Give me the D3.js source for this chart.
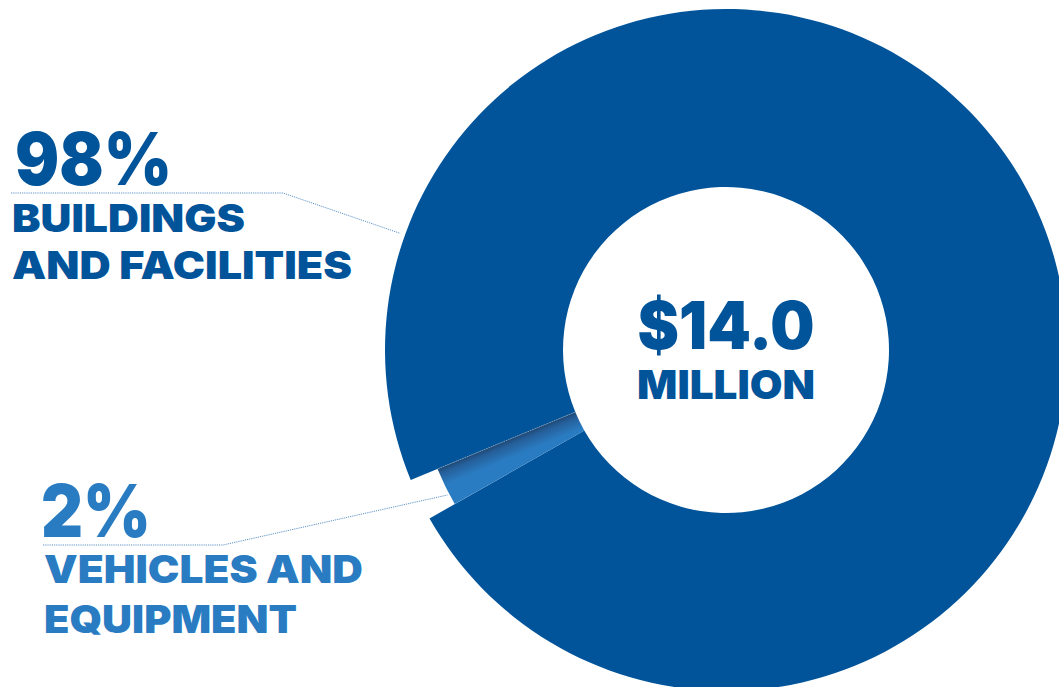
<!DOCTYPE html>
<html>
<head>
<meta charset="utf-8">
<script src="https://cdn.jsdelivr.net/npm/d3@7"></script>
<style>
  html, body { margin: 0; padding: 0; background: #fff; }
  svg { display: block; }
  text { font-family: Inter, "Open Sans", sans-serif; font-weight: 900; }
</style>
</head>
<body>
<svg id="chart" width="1059" height="687"></svg>
<script>
// Capital spending split
const categories = ["BUILDINGS|AND FACILITIES", "VEHICLES AND|EQUIPMENT"];
const shares = [98, 2];
const totalLabel = ["$14.0", "MILLION"];

const W = 1059, H = 687;
const cx = 726, cy = 350;
const rInner = 163, rOuter = 341, rOuterSmall = 312;
const dark = "#02549a", light = "#2a7cc2";
const deg = Math.PI / 180;

const svg = d3.select("#chart");
const data = categories.map((c, i) => ({ name: c, value: shares[i] }));

// small slice centred at 244° (clockwise from 12 o'clock)
const smallSpan = 360 * shares[1] / d3.sum(shares);
const smallStart = 244 - smallSpan / 2;
const pie = d3.pie().sort(null).value(d => d.value)
  .startAngle((smallStart + smallSpan - 360) * deg)
  .endAngle((smallStart + smallSpan) * deg);
const arcs = pie(data);

const defs = svg.append("defs");
const g = svg.append("g").attr("transform", `translate(${cx},${cy})`);

// shading across the small slice from its upper edge
const sA = arcs[1];
const edgeAng = sA.endAngle;           // upper edge (next to the big slice above)
const midR = (rInner + rOuterSmall) / 2;
const p0 = [Math.sin(edgeAng) * midR, -Math.cos(edgeAng) * midR];
// direction perpendicular to the edge, pointing into the slice
const nx = -Math.cos(edgeAng), ny = -Math.sin(edgeAng);
const shadeLen = midR * (sA.endAngle - sA.startAngle) * 0.6;
const grad = defs.append("linearGradient").attr("id", "shade")
  .attr("gradientUnits", "userSpaceOnUse")
  .attr("x1", p0[0]).attr("y1", p0[1])
  .attr("x2", p0[0] + nx * shadeLen).attr("y2", p0[1] + ny * shadeLen);
grad.append("stop").attr("offset", 0).attr("stop-color", "#1f4874");
grad.append("stop").attr("offset", 0.3).attr("stop-color", "#255f9a");
grad.append("stop").attr("offset", 1).attr("stop-color", light);

const arcBig = d3.arc().innerRadius(rInner).outerRadius(rOuter);
const arcSmall = d3.arc().innerRadius(rInner).outerRadius(rOuterSmall);

g.append("path").attr("d", arcBig(arcs[0])).attr("fill", dark);
g.append("path").attr("d", arcSmall(arcs[1])).attr("fill", "url(#shade)");

// faint dotted seam along the shaded edge
g.append("line")
  .attr("x1", Math.sin(edgeAng) * rInner).attr("y1", -Math.cos(edgeAng) * rInner)
  .attr("x2", Math.sin(edgeAng) * rOuterSmall).attr("y2", -Math.cos(edgeAng) * rOuterSmall)
  .attr("stroke", "#8fb0d3").attr("stroke-width", 1)
  .attr("stroke-dasharray", "1,1").attr("opacity", 0.7);

// centre total
g.append("text").attr("x", 0).attr("y", -1).attr("text-anchor", "middle")
  .attr("font-size", 66).attr("fill", dark)
  .attr("textLength", 177).attr("lengthAdjust", "spacingAndGlyphs")
  .text(totalLabel[0]);
g.append("text").attr("x", 0).attr("y", 49).attr("text-anchor", "middle")
  .attr("font-size", 40).attr("fill", dark)
  .attr("textLength", 178).attr("lengthAdjust", "spacingAndGlyphs")
  .text(totalLabel[1]);

// labels with leader lines
const labels = [
  { arc: arcs[0], color: dark, x: 12, pctX: 15, pctY: 185, pctW: 157,
    lineY: 193, elbowX: 283, endAng: 289.7, endR: rOuter + 6,
    rows: [{ y: 232, w: 233 }, { y: 279, w: 340 }] },
  { arc: arcs[1], color: light, x: 44, pctX: 41, pctY: 537, pctW: 110,
    lineY: 545, elbowX: 223, endAng: 242.5, endR: rOuterSmall + 2,
    rows: [{ y: 583, w: 319 }, { y: 633, w: 253 }] }
];

labels.forEach(L => {
  const ex = cx + Math.sin(L.endAng * deg) * L.endR;
  const ey = cy - Math.cos(L.endAng * deg) * L.endR;
  svg.append("path")
    .attr("d", `M${L.x - 1},${L.lineY}H${L.elbowX}L${ex},${ey}`)
    .attr("fill", "none").attr("stroke", "#5f93c9")
    .attr("stroke-width", 1).attr("stroke-dasharray", "1.2,1");

  svg.append("text").attr("x", L.pctX).attr("y", L.pctY)
    .attr("font-size", 73).attr("fill", L.color)
    .attr("textLength", L.pctW).attr("lengthAdjust", "spacingAndGlyphs")
    .text(`${L.arc.data.value}%`);

  L.arc.data.name.split("|").forEach((line, i) => {
    svg.append("text").attr("x", L.x).attr("y", L.rows[i].y)
      .attr("font-size", 38).attr("fill", L.color)
      .attr("textLength", L.rows[i].w).attr("lengthAdjust", "spacingAndGlyphs")
      .text(line);
  });
});
</script>
</body>
</html>
